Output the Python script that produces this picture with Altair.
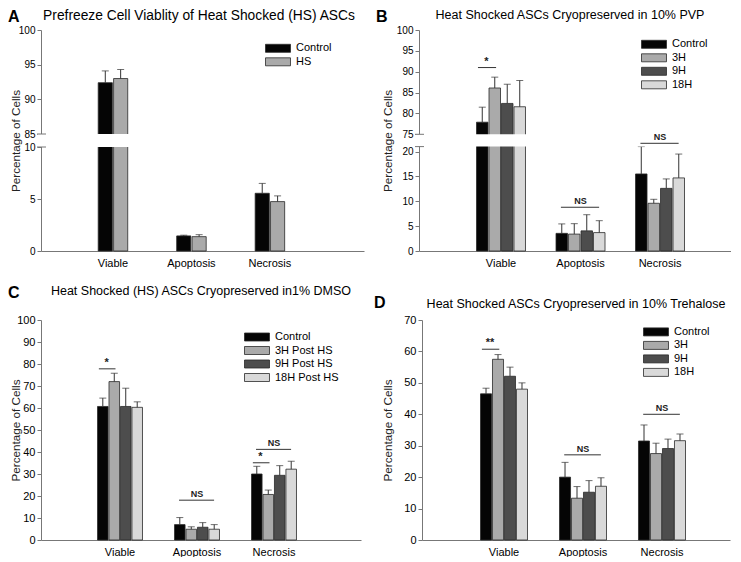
import altair as alt
import pandas as pd

categories = ["Viable", "Apoptosis", "Necrosis"]

# ---------------- Panel A ----------------
a_series = ["Control", "HS"]
a_control = [92.4, 1.45, 5.55]
a_control_err = [1.7, 0.07, 0.95]
a_hs = [93.0, 1.38, 4.75]
a_hs_err = [1.3, 0.19, 0.55]

# ---------------- Panel B ----------------
b_series = ["Control", "3H", "9H", "18H"]
b_control = [77.9, 3.55, 15.5]
b_control_err = [3.6, 1.9, 5.6]
b_3h = [86.1, 3.4, 9.6]
b_3h_err = [2.6, 2.1, 0.8]
b_9h = [82.4, 4.05, 12.6]
b_9h_err = [4.6, 3.25, 1.9]
b_18h = [81.6, 3.7, 14.7]
b_18h_err = [6.3, 2.4, 4.8]
b_ann_cat = ["Viable", "Apoptosis", "Necrosis"]
b_ann_label = ["*", "NS", "NS"]
b_ann_y = [91.0, 8.8, 35.5]

# ---------------- Panel C ----------------
c_series = ["Control", "3H Post HS", "9H Post HS", "18H Post HS"]
c_control = [60.7, 7.0, 30.0]
c_control_err = [3.8, 3.2, 3.5]
c_3h = [72.0, 4.9, 20.7]
c_3h_err = [3.8, 1.1, 2.0]
c_9h = [60.7, 5.8, 29.4]
c_9h_err = [8.3, 2.1, 4.4]
c_18h = [60.3, 4.9, 32.2]
c_18h_err = [2.5, 2.1, 3.6]
c_ann_cat = ["Viable", "Apoptosis", "Necrosis", "Necrosis"]
c_ann_label = ["*", "NS", "*", "NS"]
c_ann_y = [77.8, 18.1, 35.1, 41.2]

# ---------------- Panel D ----------------
d_series = ["Control", "3H", "9H", "18H"]
d_control = [46.5, 20.0, 31.5]
d_control_err = [1.8, 4.7, 5.1]
d_3h = [57.5, 13.3, 27.5]
d_3h_err = [1.5, 3.7, 3.3]
d_9h = [52.1, 15.2, 29.1]
d_9h_err = [2.9, 3.7, 3.0]
d_18h = [48.0, 17.1, 31.6]
d_18h_err = [2.0, 2.7, 2.1]
d_ann_cat = ["Viable", "Apoptosis", "Necrosis"]
d_ann_label = ["**", "NS", "NS"]
d_ann_y = [60.7, 27.1, 40.0]

titles = ["Prefreeze Cell Viablity of Heat Shocked (HS) ASCs",
          "Heat Shocked ASCs Cryopreserved in 10% PVP",
          "Heat Shocked (HS) ASCs Cryopreserved in1% DMSO",
          "Heat Shocked ASCs Cryopreserved in 10% Trehalose"]
letters = ["A", "B", "C", "D"]

colors2 = ["#050505", "#aaaaaa"]
colors4 = ["#050505", "#aaaaaa", "#4d4d4d", "#d9d9d9"]

FONT = "Liberation Sans, Arial, sans-serif"
NARROW = "Liberation Sans Narrow, Arial Narrow, Liberation Sans, sans-serif"
AX = "#777777"
EDGE = "#2a2a2a"
H1 = 221
H2 = 220
SWATCH = "M-1.111,-0.889H4.444V0.889H-1.111Z"


def frame(series, values, errors):
    rows = []
    for s, vals, errs in zip(series, values, errors):
        for c, v, e in zip(categories, vals, errs):
            rows.append({"category": c, "series": s, "value": v, "top": v + e})
    return pd.DataFrame(rows)


def panel(df, series, colors, ydomain, yrange, yticks, breaks, ann, width, height,
          xpad, legend_xy, title, title_pos, title_size, letter, letter_xy, title_x,
          tick_size):
    pi, po, al = xpad
    xscale = alt.Scale(domain=categories, paddingInner=pi, paddingOuter=po, align=al)
    xaxis = alt.Axis(title=None, labelAngle=0, ticks=False, labelFont=FONT,
                     labelFontSize=11, labelColor="black", labelPadding=6,
                     domainColor=AX, grid=False, zindex=0)
    yscale = alt.Scale(domain=ydomain, range=yrange, nice=False, zero=False)
    yaxis = alt.Axis(values=yticks, title="Percentage of Cells", titleFont=FONT,
                     titleFontSize=11.7, titleFontWeight="normal", titleColor="#222222",
                     titleX=title_x, labelFont=NARROW, labelFontSize=tick_size,
                     labelColor="black", labelPadding=2, tickSize=4, tickColor=AX,
                     domainColor=AX, grid=False, zindex=0, labelOverlap=False)

    def X(**kw):
        return alt.X("category:N", sort=categories, scale=xscale, axis=xaxis, **kw)

    def Y(field):
        return alt.Y(f"{field}:Q", scale=yscale, axis=yaxis)

    xoff = alt.XOffset("series:N", sort=series,
                       scale=alt.Scale(domain=series, paddingInner=0.08, paddingOuter=0))
    color = alt.Color("series:N", sort=series,
                      scale=alt.Scale(domain=series, range=colors),
                      legend=alt.Legend(title=None, orient="none",
                                        legendX=legend_xy[0], legendY=legend_xy[1],
                                        symbolType=SWATCH, symbolSize=81,
                                        symbolStrokeColor=EDGE, symbolStrokeWidth=0.8,
                                        labelFont=FONT, labelFontSize=11,
                                        labelColor="black", labelOffset=20,
                                        rowPadding=0.5, padding=0))
    base = alt.Chart(df)
    bars = base.mark_bar(stroke=EDGE, strokeWidth=0.8).encode(
        x=X(), xOffset=xoff, y=Y("value"), color=color)
    err = base.mark_rule(color="#333333", strokeWidth=1).encode(
        x=X(), xOffset=xoff, y=Y("value"), y2="top:Q")
    cap = base.mark_tick(color="#333333", size=7, thickness=1).encode(
        x=X(), xOffset=xoff, y=Y("top"))
    layers = [bars, err, cap]

    if breaks is not None:
        mask = alt.Chart(pd.DataFrame({"lo": [breaks[0]], "hi": [breaks[1]]})).mark_rect(
            color="white").encode(x=alt.value(-3), x2=alt.value(width), y=Y("lo"), y2="hi:Q")
        brk = alt.Chart(pd.DataFrame({"brk": breaks})).mark_rule(
            color=AX, strokeWidth=1).encode(x=alt.value(-4), x2=alt.value(5), y=Y("brk"))
        layers += [mask, brk]

    if ann is not None:
        adf = pd.DataFrame({"category": ann[0], "label": ann[1], "y": ann[2]})
        abase = alt.Chart(adf)
        ns = abase.transform_filter(alt.datum.label == "NS")
        st = abase.transform_filter(alt.datum.label != "NS")
        layers += [
            ns.mark_rule(color="#333333", strokeWidth=1).encode(
                x=X(bandPosition=0.1), x2=alt.X2("category", bandPosition=0.88), y=Y("y")),
            st.mark_rule(color="#333333", strokeWidth=1).encode(
                x=X(bandPosition=0.03), x2=alt.X2("category", bandPosition=0.4), y=Y("y")),
            ns.mark_text(baseline="bottom", dy=-1, font=FONT, fontSize=9,
                         fontWeight="bold", color="#222222").encode(
                x=X(bandPosition=0.5), y=Y("y"), text="label:N"),
            st.mark_text(baseline="bottom", dy=-1, font=FONT, fontSize=11,
                         fontWeight="bold", color="#222222").encode(
                x=X(bandPosition=0.2), y=Y("y"), text="label:N"),
        ]

    head = alt.Chart(pd.DataFrame({"letter": [letter], "title": [title]}))
    lett = head.mark_text(
        align="left", baseline="alphabetic", font=FONT, fontSize=16,
        fontWeight="bold", color="black").encode(
        x=alt.value(letter_xy[0]), y=alt.value(letter_xy[1]), text="letter:N")
    ttl = head.mark_text(
        align="center", baseline="alphabetic", font=FONT, fontSize=title_size,
        color="black").encode(
        x=alt.value(title_pos[0]), y=alt.value(title_pos[1]), text="title:N")
    layers += [lett, ttl]

    return alt.layer(*layers).properties(width=width, height=height)


df_a = frame(a_series, [a_control, a_hs], [a_control_err, a_hs_err])
df_b = frame(b_series, [b_control, b_3h, b_9h, b_18h],
             [b_control_err, b_3h_err, b_9h_err, b_18h_err])
df_c = frame(c_series, [c_control, c_3h, c_9h, c_18h],
             [c_control_err, c_3h_err, c_9h_err, c_18h_err])
df_d = frame(d_series, [d_control, d_3h, d_9h, d_18h],
             [d_control_err, d_3h_err, d_9h_err, d_18h_err])

pa = panel(df_a, a_series, colors2, [0, 10, 85, 100], [H1, 117, 104, 0],
           [0, 5, 10, 85, 90, 95, 100], [10, 85], None, 323, H1, (0.624, 0.87, 0.419),
           (224, 12.8), titles[0], (158, -10.2), 13.8, letters[0], (-33, -8), -20, 10)
pb = panel(df_b, b_series, colors4, [0, 21, 75, 100], [H1, 116.6, 104.3, 0],
           [0, 5, 10, 15, 20, 75, 80, 85, 90, 95, 100], [21, 75],
           (b_ann_cat, b_ann_label, b_ann_y), 312, H1, (0.384, 0.654, 0.553),
           (222, 8.8), titles[1], (151, -11.5), 12.5, letters[1], (-43, -8), -26, 10)
pc = panel(df_c, c_series, colors4, [0, 100], [H2, 0], list(range(0, 101, 10)), None,
           (c_ann_cat, c_ann_label, c_ann_y), 320, H2, (0.416, 0.786, 0.467),
           (203, 11.5), titles[2], (160, -25), 12.5, letters[2], (-33, -22), -20, 11)
pd_ = panel(df_d, d_series, colors4, [0, 70], [H2, 0], list(range(0, 71, 10)), None,
            (d_ann_cat, d_ann_label, d_ann_y), 308, H2, (0.405, 0.652, 0.568),
            (221, 6.4), titles[3], (154, -12), 12.5, letters[3], (-48, -12), -29, 11)

row1 = alt.hconcat(pa, pb, spacing=55, bounds="flush").resolve_scale(
    color="independent", xOffset="independent").resolve_legend(color="independent")
row2 = alt.hconcat(pc, pd_, spacing=61, bounds="flush").resolve_scale(
    color="independent", xOffset="independent").resolve_legend(color="independent")

chart = alt.vconcat(row1, row2, spacing=17).resolve_scale(
    color="independent", xOffset="independent").resolve_legend(
    color="independent").properties(padding=0, background="white").configure_view(
    stroke=None)

chart.save("out.html", embed_options={"renderer": "svg", "actions": False})
